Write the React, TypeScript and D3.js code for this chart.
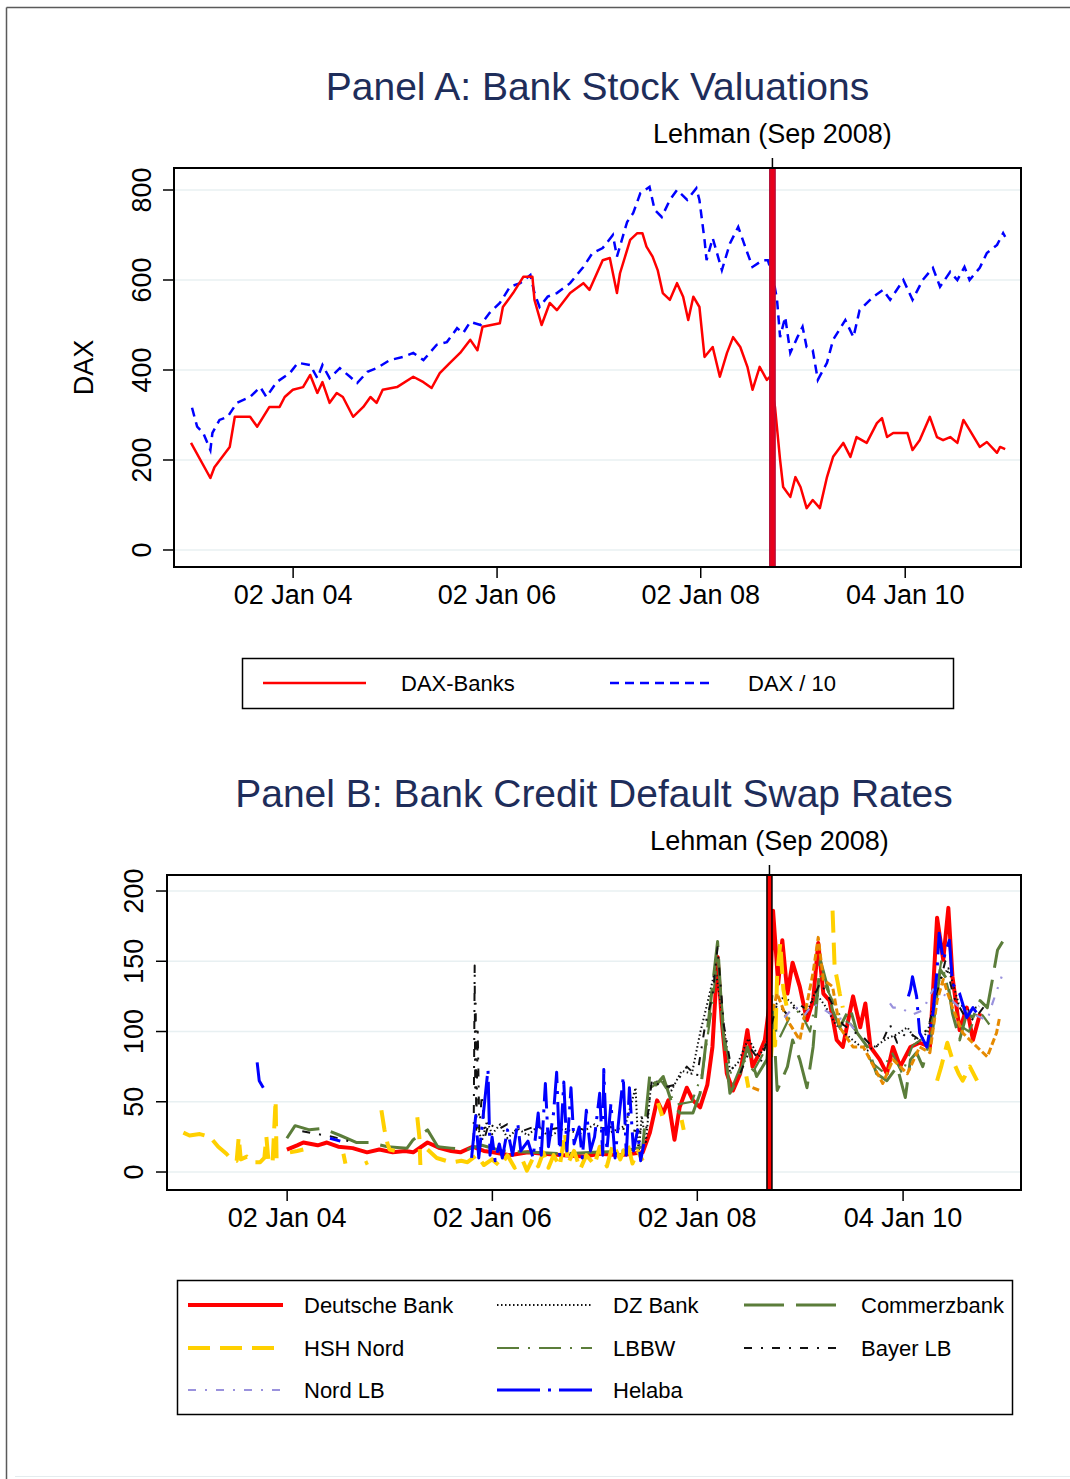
import React from "react";
import * as d3 from "d3";

type Pt = [number, number | null];

// ---- Panel A: stock indices (decimal year, level) ----
const daxBanks: Pt[] = [
  [2003.0, 238], [2003.19, 160], [2003.23, 184], [2003.38, 229], [2003.43, 296], [2003.58, 296],
  [2003.65, 274], [2003.77, 318], [2003.87, 318], [2003.92, 340], [2004.0, 356], [2004.1, 362],
  [2004.17, 389], [2004.24, 349], [2004.29, 373], [2004.36, 327], [2004.43, 349], [2004.49, 340],
  [2004.59, 296], [2004.69, 318], [2004.76, 340], [2004.82, 327], [2004.88, 356], [2005.02, 362],
  [2005.18, 385], [2005.28, 373], [2005.36, 360], [2005.44, 393], [2005.54, 416], [2005.64, 438],
  [2005.74, 467], [2005.81, 444], [2005.86, 496], [2006.03, 504], [2006.06, 540], [2006.16, 571],
  [2006.26, 607], [2006.35, 607], [2006.37, 556], [2006.44, 500], [2006.52, 549], [2006.59, 533],
  [2006.72, 571], [2006.85, 593], [2006.91, 578], [2007.04, 644], [2007.11, 649], [2007.18, 571],
  [2007.21, 615], [2007.31, 689], [2007.38, 704], [2007.43, 704], [2007.47, 674], [2007.53, 652],
  [2007.58, 622], [2007.63, 571], [2007.7, 556], [2007.77, 593], [2007.83, 563], [2007.88, 511],
  [2007.93, 563], [2007.99, 540], [2008.04, 429], [2008.12, 451], [2008.19, 385], [2008.26, 438],
  [2008.32, 473], [2008.39, 451], [2008.46, 407], [2008.51, 356], [2008.58, 407], [2008.65, 378],
  [2008.68, 385], [2008.73, 318], [2008.78, 200], [2008.81, 140], [2008.88, 118], [2008.93, 162],
  [2008.98, 140], [2009.04, 93], [2009.1, 111], [2009.17, 93], [2009.24, 162], [2009.3, 207],
  [2009.4, 238], [2009.47, 207], [2009.53, 251], [2009.63, 238], [2009.73, 282], [2009.78, 293],
  [2009.83, 251], [2009.89, 260], [2010.03, 260], [2010.08, 222], [2010.15, 244], [2010.25, 296],
  [2010.32, 251], [2010.38, 244], [2010.45, 251], [2010.52, 238], [2010.58, 289], [2010.64, 267],
  [2010.74, 229], [2010.81, 240], [2010.91, 216], [2010.94, 229], [2010.99, 224],
];

const daxTenth: Pt[] = [
  [2003.01, 316], [2003.06, 274], [2003.12, 260], [2003.19, 222], [2003.21, 260], [2003.28, 289],
  [2003.36, 296], [2003.45, 327], [2003.58, 340], [2003.68, 362], [2003.74, 340], [2003.84, 373],
  [2003.97, 393], [2004.05, 416], [2004.17, 411], [2004.24, 382], [2004.29, 411], [2004.36, 382],
  [2004.46, 404], [2004.56, 385], [2004.63, 371], [2004.73, 396], [2004.82, 404], [2004.95, 422],
  [2005.08, 429], [2005.18, 438], [2005.28, 422], [2005.41, 456], [2005.51, 462], [2005.61, 493],
  [2005.67, 482], [2005.74, 507], [2005.84, 500], [2005.93, 527], [2006.03, 549], [2006.13, 585],
  [2006.23, 593], [2006.33, 611], [2006.37, 571], [2006.42, 540], [2006.5, 563], [2006.59, 571],
  [2006.72, 593], [2006.85, 629], [2006.94, 660], [2007.04, 671], [2007.14, 700], [2007.18, 652],
  [2007.28, 729], [2007.34, 749], [2007.41, 793], [2007.5, 807], [2007.55, 756], [2007.62, 740],
  [2007.7, 778], [2007.77, 800], [2007.87, 778], [2007.96, 804], [2007.99, 778], [2008.04, 689],
  [2008.06, 644], [2008.12, 693], [2008.21, 622], [2008.29, 682], [2008.37, 718], [2008.46, 660],
  [2008.51, 629], [2008.61, 644], [2008.66, 644], [2008.71, 607], [2008.75, 556], [2008.78, 473],
  [2008.83, 518], [2008.88, 438], [2008.95, 473], [2009.0, 496], [2009.04, 451], [2009.1, 444],
  [2009.15, 378], [2009.24, 416], [2009.3, 467], [2009.42, 511], [2009.5, 473], [2009.56, 533],
  [2009.69, 562], [2009.79, 578], [2009.86, 556], [2009.99, 600], [2010.08, 556], [2010.18, 600],
  [2010.28, 627], [2010.35, 585], [2010.45, 618], [2010.52, 600], [2010.59, 629], [2010.64, 600],
  [2010.74, 627], [2010.81, 660], [2010.91, 678], [2010.97, 704], [2010.99, 696],
];

// ---- Panel B: CDS rates (decimal year, basis points); null = gap ----
const deutscheBank: Pt[] = [
  [2004.0, 16], [2004.1, 19], [2004.16, 21], [2004.3, 19], [2004.39, 21], [2004.5, 18], [2004.64, 17],
  [2004.78, 14], [2004.9, 16], [2005.03, 14], [2005.15, 15], [2005.23, 14], [2005.37, 21], [2005.49, 17],
  [2005.6, 15], [2005.69, 14], [2005.81, 18], [2005.92, 15], [2006.01, 14], [2006.17, 12], [2006.35, 14],
  [2006.5, 13], [2006.7, 12], [2006.9, 11], [2007.05, 13], [2007.25, 12], [2007.47, 14], [2007.54, 28],
  [2007.61, 51], [2007.67, 42], [2007.72, 51], [2007.78, 23], [2007.83, 46], [2007.9, 60], [2007.96, 51],
  [2008.03, 46], [2008.1, 62], [2008.15, 89], [2008.2, 153], [2008.24, 108], [2008.29, 70], [2008.35, 58],
  [2008.42, 70], [2008.49, 101], [2008.54, 75], [2008.61, 85], [2008.66, 94], [2008.71, 122], [2008.74, 186],
  [2008.79, 134], [2008.83, 165], [2008.88, 127], [2008.93, 149], [2009.0, 132], [2009.07, 108],
  [2009.13, 122], [2009.18, 163], [2009.23, 127], [2009.29, 122], [2009.36, 94], [2009.42, 89],
  [2009.52, 125], [2009.59, 103], [2009.64, 120], [2009.69, 89], [2009.78, 80], [2009.85, 70],
  [2009.91, 89], [2009.98, 75], [2010.08, 89], [2010.17, 92], [2010.27, 89], [2010.34, 181], [2010.4, 151],
  [2010.45, 188], [2010.49, 139], [2010.56, 101], [2010.63, 117], [2010.69, 94], [2010.76, 113],
];

const dzBank: Pt[] = [
  [2005.86, 32], [2005.9, 22], [2005.95, 36], [2006.0, 27], [2006.08, 34], [2006.15, 24], [2006.25, 31],
  [2006.35, 26], [2006.45, 33], [2006.55, 25], [2006.7, 31], [2006.85, 27], [2007.0, 34], [2007.15, 28],
  [2007.3, 33], [2007.4, 60], [2007.43, 12], [2007.46, 40], [2007.5, 20], [2007.55, 62], [2007.65, 66],
  [2007.75, 58], [2007.85, 72], [2007.95, 70], [2008.03, 99], [2008.1, 120], [2008.18, 145], [2008.25, 110],
  [2008.32, 72], [2008.4, 78], [2008.5, 95], [2008.6, 82], [2008.68, 92], [2008.75, 118], [2008.85, 125],
  [2008.95, 118], [2009.05, 110], [2009.15, 128], [2009.25, 118], [2009.35, 105], [2009.45, 98],
  [2009.55, 92], [2009.65, 86], [2009.75, 90], [2009.85, 95], [2009.95, 98], [2010.05, 103], [2010.15, 92],
  [2010.25, 100], [2010.35, 135], [2010.45, 145], [2010.55, 120], [2010.65, 115], [2010.75, 118],
];

const commerzbank: Pt[] = [
  [2004.0, 24], [2004.08, 33], [2004.22, 30], [2004.35, 31], [2004.52, 26], [2004.68, 21], [2004.81, 21],
  [2004.98, 18], [2005.17, 17], [2005.23, 23], [2005.37, 30], [2005.47, 18], [2005.6, 17], [2005.75, 16],
  [2005.9, 19], [2006.1, 15], [2006.4, 14], [2006.7, 13], [2007.0, 14], [2007.3, 15], [2007.47, 18],
  [2007.54, 70], [2007.6, 62], [2007.67, 68], [2007.75, 50], [2007.83, 42], [2007.96, 42], [2008.03, 56],
  [2008.12, 113], [2008.2, 164], [2008.25, 103], [2008.32, 56], [2008.42, 70], [2008.49, 89], [2008.58, 68],
  [2008.68, 80], [2008.73, 127], [2008.78, 58], [2008.88, 75], [2008.93, 94], [2009.0, 80], [2009.07, 60],
  [2009.13, 89], [2009.2, 151], [2009.27, 132], [2009.32, 115], [2009.39, 103], [2009.49, 117],
  [2009.56, 99], [2009.66, 89], [2009.75, 70], [2009.85, 65], [2009.95, 75], [2010.03, 53], [2010.08, 80],
  [2010.14, 85], [2010.2, 75], [2010.3, 103], [2010.37, 144], [2010.44, 137], [2010.49, 113], [2010.56, 94],
  [2010.63, 113], [2010.69, 110], [2010.76, 122], [2010.83, 117], [2010.88, 137], [2010.93, 158],
  [2010.98, 164],
];

const hshNord: Pt[] = [
  [2002.99, 28], [2003.05, 26], [2003.15, 27], [2003.25, 25], [2003.33, 18], [2003.41, 13], [2003.46, 9],
  [2003.51, 8], [2003.53, 25], [2003.55, 9], [2003.61, 11], [2003.68, 7], [2003.74, 7], [2003.78, 10],
  [2003.8, 25], [2003.82, 8], [2003.86, 6], [2003.89, 51], [2003.9, 8], [2003.91, null],
  [2004.03, 14], [2004.1, 15], [2004.16, 16], [2004.17, null],
  [2004.55, 13], [2004.57, 6], [2004.58, null],
  [2004.76, 6], [2004.79, 7], [2004.8, null],
  [2004.92, 44], [2004.95, 30], [2004.98, 20], [2005.0, 16], [2005.05, 15], [2005.06, null],
  [2005.27, 39], [2005.29, 25], [2005.3, 5], [2005.32, null],
  [2005.37, 16], [2005.46, 10], [2005.55, 8], [2005.62, 7], [2005.7, 8], [2005.76, 7], [2005.85, 12],
  [2005.92, 5], [2006.0, 9], [2006.08, 4], [2006.15, 12], [2006.22, 3], [2006.3, 8], [2006.34, 1],
  [2006.4, 10], [2006.45, 4], [2006.5, 14], [2006.55, 3], [2006.6, 12], [2006.66, 4], [2006.71, 28],
  [2006.74, 6], [2006.8, 15], [2006.86, 2], [2006.92, 12], [2007.0, 5], [2007.05, 18], [2007.12, 4],
  [2007.18, 20], [2007.25, 9], [2007.32, 21], [2007.37, 6], [2007.42, 15], [2007.47, 8], [2007.48, null],
  [2007.62, 49], [2007.66, 40], [2007.67, null],
  [2007.85, 37], [2007.87, 30], [2007.88, null],
  [2008.48, 68], [2008.5, 60], [2008.51, null],
  [2008.7, 85], [2008.71, 72], [2008.74, 103], [2008.76, 90], [2008.78, 140], [2008.81, 163],
  [2008.84, 130], [2008.88, 115], [2008.9, null],
  [2009.32, 186], [2009.34, 146], [2009.37, 135], [2009.39, 127], [2009.42, 117], [2009.44, null],
  [2010.34, 65], [2010.38, 75], [2010.44, 92], [2010.49, 80], [2010.55, 70], [2010.59, 65], [2010.66, 75],
  [2010.73, 65],
];

const lbbw: Pt[] = [
  [2007.55, 60], [2007.65, 65], [2007.8, 48], [2007.95, 50], [2008.05, 70], [2008.15, 120], [2008.2, 155],
  [2008.27, 95], [2008.35, 62], [2008.45, 80], [2008.55, 72], [2008.65, 85], [2008.72, 110], [2008.8, 95],
  [2008.9, 110], [2009.0, 115], [2009.1, 100], [2009.2, 140], [2009.3, 125], [2009.4, 110], [2009.5, 105],
  [2009.6, 95], [2009.7, 78], [2009.8, 72], [2009.9, 85], [2010.0, 70], [2010.1, 90], [2010.2, 95],
  [2010.3, 110], [2010.38, 150], [2010.45, 130], [2010.55, 105], [2010.65, 100], [2010.75, 115],
  [2010.85, 105],
];

const bayerLB: Pt[] = [
  [2004.15, 29], [2004.3, 27], [2004.45, 25], [2004.6, 22], [2004.68, 20], [2004.69, null],
  [2005.82, 22], [2005.83, 147], [2005.835, 60], [2005.84, 120], [2005.845, 30], [2005.86, 100],
  [2005.875, 30], [2005.9, 55], [2005.93, 25], [2005.97, 35], [2006.05, 30], [2006.15, 34], [2006.25, 28],
  [2006.4, 32], [2006.55, 30], [2006.75, 33], [2006.95, 29], [2007.15, 32], [2007.35, 30], [2007.5, 28],
  [2007.56, 66], [2007.66, 60], [2007.78, 62], [2007.9, 75], [2008.0, 68], [2008.08, 105], [2008.15, 125],
  [2008.2, 160], [2008.26, 105], [2008.33, 75], [2008.42, 70], [2008.52, 88], [2008.62, 78], [2008.7, 98],
  [2008.78, 120], [2008.88, 112], [2008.98, 120], [2009.08, 115], [2009.2, 135], [2009.3, 122],
  [2009.42, 105], [2009.52, 100], [2009.62, 96], [2009.72, 88], [2009.8, 92], [2009.88, 105],
  [2009.95, 92], [2010.05, 100], [2010.15, 95], [2010.25, 102], [2010.35, 130], [2010.42, 150],
  [2010.5, 125], [2010.6, 112], [2010.7, 108], [2010.8, 118],
];

const nordLB: Pt[] = [
  [2008.85, 110], [2008.95, 118], [2009.05, 112], [2009.13, 120], [2009.25, 115], [2009.35, 110],
  [2009.46, 108], [2009.55, 100], [2009.56, null],
  [2009.88, 120], [2009.91, 117], [2009.98, 117], [2010.1, 112], [2010.2, 115], [2010.3, 130],
  [2010.44, 125], [2010.56, 117], [2010.7, 112], [2010.83, 108], [2010.88, 120], [2010.97, 139],
];

const helaba: Pt[] = [
  [2003.71, 78], [2003.73, 65], [2003.77, 60], [2003.78, null],
  [2004.42, 24], [2004.52, 22], [2004.53, null],
  [2005.8, 10], [2005.84, 40], [2005.87, 10], [2005.96, 73], [2005.98, 12], [2006.0, 25], [2006.03, 8],
  [2006.07, 20], [2006.1, 10], [2006.15, 30], [2006.2, 12], [2006.25, 35], [2006.28, 15], [2006.35, 22],
  [2006.4, 10], [2006.45, 42], [2006.48, 12], [2006.52, 63], [2006.55, 18], [2006.6, 42], [2006.63, 71],
  [2006.66, 12], [2006.7, 64], [2006.73, 15], [2006.77, 60], [2006.8, 20], [2006.85, 32], [2006.88, 10],
  [2006.92, 44], [2006.96, 15], [2007.0, 25], [2007.05, 56], [2007.08, 12], [2007.09, 73], [2007.12, 15],
  [2007.16, 49], [2007.2, 10], [2007.24, 40], [2007.28, 68], [2007.31, 12], [2007.34, 60], [2007.38, 15],
  [2007.42, 30], [2007.45, 8], [2007.48, 20], [2007.49, null],
  [2010.06, 125], [2010.08, 130], [2010.1, 139], [2010.14, 125], [2010.17, 99], [2010.24, 89],
  [2010.3, 113], [2010.34, 144], [2010.36, 170], [2010.4, 151], [2010.46, 165], [2010.49, 134],
  [2010.56, 127], [2010.63, 110], [2010.69, 117], [2010.76, 110],
];

// orange series drawn in the chart but not named in its key
const unlistedBank: Pt[] = [
  [2008.54, 60], [2008.61, 58], [2008.62, null], [2008.71, 108], [2008.78, 127], [2008.88, 108],
  [2009.0, 94], [2009.13, 142], [2009.18, 167], [2009.23, 137], [2009.32, 132], [2009.39, 103],
  [2009.52, 89], [2009.62, 89], [2009.81, 63], [2009.91, 80], [2010.05, 70], [2010.17, 89], [2010.27, 85],
  [2010.34, 122], [2010.4, 137], [2010.49, 117], [2010.59, 99], [2010.73, 89], [2010.83, 82],
  [2010.92, 99], [2010.95, 110],
];

const xTickDates = ["2004-01-02", "2006-01-02", "2008-01-02", "2010-01-04"];
const xTickLabels = ["02 Jan 04", "02 Jan 06", "02 Jan 08", "04 Jan 10"];
const yTicksA = [0, 200, 400, 600, 800];
const yTicksB = [0, 50, 100, 150, 200];
const lehmanDate = "2008-09-15";

const FONT = "'Liberation Sans', Arial, Helvetica, sans-serif";
const TITLE_COLOR = "#1e2d5a";
const GRID = "#e8f0f2";

// decimal year -> Date
const toDate = (y: number) => {
  const yr = Math.floor(y);
  const a = Date.UTC(yr, 0, 1);
  const b = Date.UTC(yr + 1, 0, 1);
  return new Date(a + (y - yr) * (b - a));
};
const parse = (s: string) => new Date(s + "T00:00:00Z");

function Panel({ x, y, box, yTicks, title, titleY, lehmanY, tickLabelX, markerStyle, children }: any) {
  const lx = x(parse(lehmanDate));
  return (
    <g>
      <text x={(box.left + box.right) / 2} y={titleY} textAnchor="middle" fontSize={39} fill={TITLE_COLOR}>
        {title}
      </text>
      {yTicks.map((t: number) => (
        <line key={"g" + t} x1={box.left} x2={box.right} y1={y(t)} y2={y(t)} stroke={GRID} strokeWidth={1.5} />
      ))}
      {children}
      {markerStyle === "A" ? (
        <rect x={lx - 2.8} y={box.top} width={5.6} height={box.bottom - box.top} fill="#e8001c" stroke="#b3123b" strokeWidth={1.2} />
      ) : (
        <rect x={lx - 2.5} y={box.top} width={5} height={box.bottom - box.top} fill="#ff0000" stroke="#000" strokeWidth={1.5} />
      )}
      <rect x={box.left} y={box.top} width={box.right - box.left} height={box.bottom - box.top} fill="none" stroke="#000" strokeWidth={2} />
      {/* Lehman tick on top axis */}
      <line x1={lx} x2={lx} y1={box.top - 10} y2={box.top} stroke="#000" strokeWidth={1.5} />
      <text x={lx} y={lehmanY} textAnchor="middle" fontSize={27} fill="#000">Lehman (Sep 2008)</text>
      {/* y axis */}
      {yTicks.map((t: number) => (
        <g key={"y" + t}>
          <line x1={box.left - 11} x2={box.left} y1={y(t)} y2={y(t)} stroke="#000" strokeWidth={1.5} />
          <text transform={`translate(${tickLabelX},${y(t)}) rotate(-90)`} textAnchor="middle" fontSize={27} fill="#000">
            {t}
          </text>
        </g>
      ))}
      {/* x axis */}
      {xTickDates.map((d, i) => {
        const px = x(parse(d));
        return (
          <g key={d}>
            <line x1={px} x2={px} y1={box.bottom} y2={box.bottom + 11} stroke="#000" strokeWidth={1.5} />
            <text x={px} y={box.bottom + 37} textAnchor="middle" fontSize={27} fill="#000">{xTickLabels[i]}</text>
          </g>
        );
      })}
    </g>
  );
}

export default function App() {
  // Panel A scales
  const boxA = { left: 174, right: 1021, top: 168, bottom: 567 };
  const xA = d3.scaleUtc().domain([parse("2002-11-01"), parse("2011-02-23")]).range([boxA.left, boxA.right]);
  const yA = d3.scaleLinear().domain([-37.8, 848.9]).range([boxA.bottom, boxA.top]);

  // Panel B scales
  const boxB = { left: 167, right: 1021, top: 875, bottom: 1190 };
  const xB = d3.scaleUtc().domain([parse("2002-10-31"), parse("2011-02-28")]).range([boxB.left, boxB.right]);
  const yB = d3.scaleLinear().domain([-12.8, 211.4]).range([boxB.bottom, boxB.top]);

  const mkLine = (x: any, y: any) =>
    d3.line<Pt>()
      .defined((d) => d[1] != null)
      .x((d) => x(toDate(d[0])))
      .y((d) => y(d[1] as number));

  const lineA = mkLine(xA, yA);
  const lineB = mkLine(xB, yB);

  const cdsSeries = [
    { name: "Deutsche Bank", data: deutscheBank, color: "#ff0000", width: 4, dash: "" },
    { name: "DZ Bank", data: dzBank, color: "#111111", width: 2, dash: "1.5,2.5" },
    { name: "Commerzbank", data: commerzbank, color: "#5b7d3a", width: 3, dash: "40,12" },
    { name: "HSH Nord", data: hshNord, color: "#ffd000", width: 4, dash: "22,10" },
    { name: "LBBW", data: lbbw, color: "#5b7d3a", width: 2.2, dash: "22,9,2,9" },
    { name: "Bayer LB", data: bayerLB, color: "#111111", width: 2, dash: "8,9,2,9" },
    { name: "", data: unlistedBank, color: "#e68a00", width: 3, dash: "7,3" },
    { name: "Nord LB", data: nordLB, color: "#9a92dd", width: 2.2, dash: "8,9,2,9" },
    { name: "Helaba", data: helaba, color: "#0000ff", width: 3, dash: "43,8,3,8" },
  ];

  const legendB = cdsSeries.filter((s) => s.name);
  const legendCols = [188, 497, 744];
  const legendTextCols = [304, 613, 861];
  const legendRows = [1305, 1348, 1390];

  return (
    <div style={{ position: "absolute", left: 0, top: 0 }}>
      <svg width={1070} height={1479} style={{ display: "block", fontFamily: FONT }}>
        <rect x={0} y={0} width={1070} height={1479} fill="#fff" />
        {/* page frame */}
        <line x1={6.5} y1={7.5} x2={1070} y2={7.5} stroke="#5a5a5a" strokeWidth={1.5} />
        <line x1={6.5} y1={7.5} x2={6.5} y2={1479} stroke="#5a5a5a" strokeWidth={1.5} />
        <line x1={15} y1={1476.5} x2={1070} y2={1476.5} stroke="#e4ecee" strokeWidth={1} />

        {/* Panel A */}
        <Panel x={xA} y={yA} box={boxA} yTicks={yTicksA} title="Panel A: Bank Stock Valuations"
          titleY={100} lehmanY={143} tickLabelX={151} markerStyle="A">
          <path d={lineA(daxTenth) || ""} fill="none" stroke="#0000ff" strokeWidth={2.5} strokeDasharray="9,6" />
          <path d={lineA(daxBanks) || ""} fill="none" stroke="#ff0000" strokeWidth={2.5} strokeLinejoin="round" />
        </Panel>
        <text transform={`translate(93,${(boxA.top + boxA.bottom) / 2}) rotate(-90)`} textAnchor="middle" fontSize={27} fill="#000">
          DAX
        </text>

        {/* Legend A */}
        <rect x={242.5} y={658.5} width={711} height={50} fill="#fff" stroke="#000" strokeWidth={1.5} />
        <line x1={263} x2={366} y1={683} y2={683} stroke="#ff0000" strokeWidth={2.4} />
        <text x={401} y={691} fontSize={22}>DAX-Banks</text>
        <line x1={610} x2={713} y1={683} y2={683} stroke="#0000ff" strokeWidth={2.4} strokeDasharray="9,6" />
        <text x={748} y={691} fontSize={22}>DAX / 10</text>

        {/* Panel B */}
        <Panel x={xB} y={yB} box={boxB} yTicks={yTicksB} title="Panel B: Bank Credit Default Swap Rates"
          titleY={807} lehmanY={850} tickLabelX={143} markerStyle="B">
          {cdsSeries.map((s, i) => (
            <path key={i} d={lineB(s.data) || ""} fill="none" stroke={s.color} strokeWidth={s.width}
              strokeDasharray={s.dash || undefined} strokeLinejoin="round" />
          ))}
        </Panel>

        {/* Legend B */}
        <rect x={177.5} y={1280.5} width={835} height={134} fill="#fff" stroke="#000" strokeWidth={1.5} />
        {legendB.map((s, i) => {
          const col = i % 3;
          const row = Math.floor(i / 3);
          const ly = legendRows[row];
          return (
            <g key={s.name}>
              <line x1={legendCols[col]} x2={legendCols[col] + 95} y1={ly} y2={ly} stroke={s.color}
                strokeWidth={s.width} strokeDasharray={s.dash || undefined} />
              <text x={legendTextCols[col]} y={ly + 8} fontSize={22}>{s.name}</text>
            </g>
          );
        })}
      </svg>
    </div>
  );
}
